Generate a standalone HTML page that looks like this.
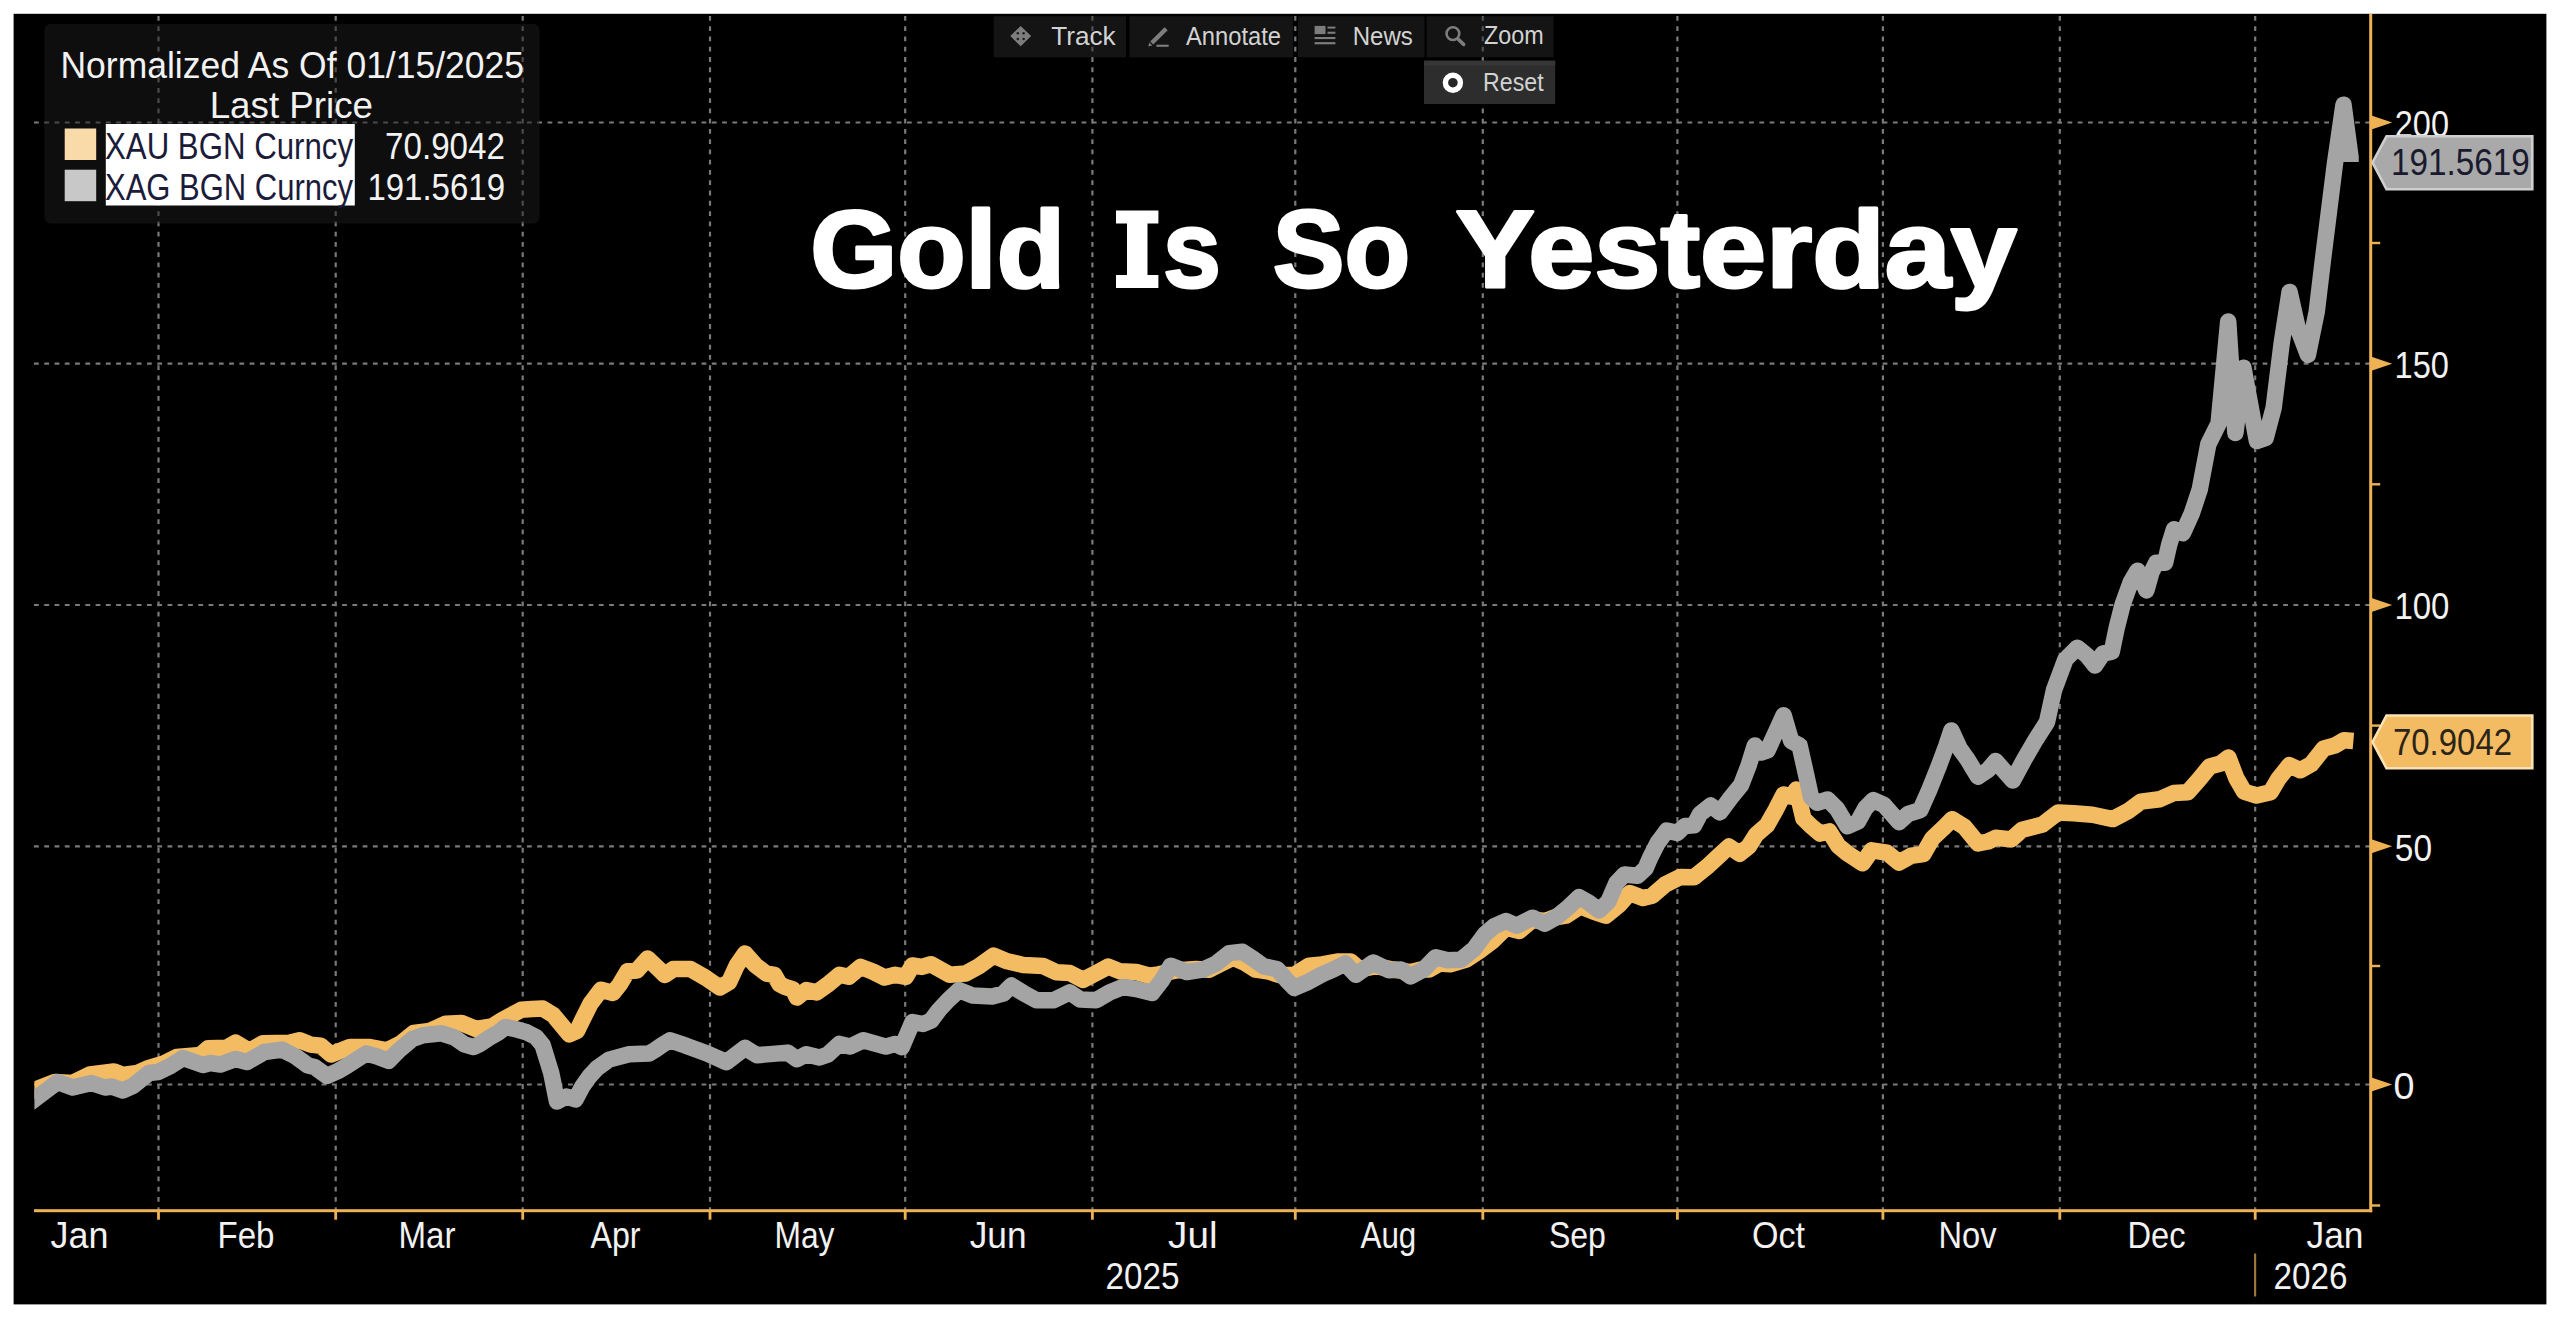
<!DOCTYPE html>
<html lang="en"><head><meta charset="utf-8"><title>Gold Is So Yesterday</title>
<style>html,body{margin:0;padding:0;background:#fff;}body{width:2560px;height:1317px;overflow:hidden;position:relative;font-family:"Liberation Sans",sans-serif;}#panel{position:absolute;left:14px;top:14px;width:2532px;height:1290px;background:#000;}svg{position:absolute;left:0;top:0;}</style></head><body>
<svg width="2560" height="1317" viewBox="0 0 2560 1317">
<rect x="13.6" y="13.8" width="2532.8" height="1290.6" fill="#000000"/>
<g stroke="#7a7a7a" stroke-width="2.2" stroke-dasharray="4.8 5.47" fill="none">
<line x1="34" y1="122.5" x2="2370.7" y2="122.5"/>
<line x1="34" y1="363.7" x2="2370.7" y2="363.7"/>
<line x1="34" y1="605.0" x2="2370.7" y2="605.0"/>
<line x1="34" y1="846.3" x2="2370.7" y2="846.3"/>
<line x1="34" y1="1084.5" x2="2370.7" y2="1084.5"/>
<line x1="158.5" y1="16" x2="158.5" y2="1210.7"/>
<line x1="335.7" y1="16" x2="335.7" y2="1210.7"/>
<line x1="522.7" y1="16" x2="522.7" y2="1210.7"/>
<line x1="710" y1="16" x2="710" y2="1210.7"/>
<line x1="905.2" y1="16" x2="905.2" y2="1210.7"/>
<line x1="1092.4" y1="16" x2="1092.4" y2="1210.7"/>
<line x1="1295.3" y1="16" x2="1295.3" y2="1210.7"/>
<line x1="1482.8" y1="16" x2="1482.8" y2="1210.7"/>
<line x1="1677.4" y1="16" x2="1677.4" y2="1210.7"/>
<line x1="1882.9" y1="16" x2="1882.9" y2="1210.7"/>
<line x1="2059.8" y1="16" x2="2059.8" y2="1210.7"/>
<line x1="2255.2" y1="16" x2="2255.2" y2="1210.7"/>
</g>
<rect x="44.5" y="24" width="495" height="199.5" rx="6" ry="6" fill="#1b1b1b" fill-opacity="0.5"/>
<rect x="993.8" y="16.3" width="132.20000000000005" height="41" fill="#282828" fill-opacity="0.5"/>
<rect x="1129.5" y="16.3" width="163.5" height="41" fill="#282828" fill-opacity="0.5"/>
<rect x="1298" y="16.3" width="126.5" height="41" fill="#282828" fill-opacity="0.5"/>
<rect x="1426.6" y="16.3" width="127.0" height="41" fill="#282828" fill-opacity="0.5"/>
<text x="60.5" y="77.6" textLength="463.5" lengthAdjust="spacingAndGlyphs" font-family="Liberation Sans, sans-serif" font-size="36" font-weight="normal" fill="#f2f2f2" >Normalized As Of 01/15/2025</text>
<text x="209.7" y="118.0" textLength="163.3" lengthAdjust="spacingAndGlyphs" font-family="Liberation Sans, sans-serif" font-size="36" font-weight="normal" fill="#f2f2f2" >Last Price</text>
<rect x="64.7" y="128.5" width="31.5" height="31.5" fill="#f8dba8"/>
<rect x="64.7" y="169.7" width="31.5" height="31.5" fill="#c8c8c8"/>
<rect x="105.8" y="124" width="249" height="81.5" fill="#ffffff"/>
<text x="105.0" y="158.7" textLength="248.0" lengthAdjust="spacingAndGlyphs" font-family="Liberation Sans, sans-serif" font-size="36" font-weight="normal" fill="#1b1b3a" >XAU BGN Curncy</text>
<text x="105.0" y="200.0" textLength="248.0" lengthAdjust="spacingAndGlyphs" font-family="Liberation Sans, sans-serif" font-size="36" font-weight="normal" fill="#1b1b3a" >XAG BGN Curncy</text>
<text x="385.0" y="158.7" textLength="120.0" lengthAdjust="spacingAndGlyphs" font-family="Liberation Sans, sans-serif" font-size="36" font-weight="normal" fill="#f2f2f2" >70.9042</text>
<text x="367.4" y="200.0" textLength="137.6" lengthAdjust="spacingAndGlyphs" font-family="Liberation Sans, sans-serif" font-size="36" font-weight="normal" fill="#f2f2f2" >191.5619</text>
<rect x="1424" y="60.7" width="131.2" height="43.3" fill="#2d2d2d"/>
<rect x="1424" y="60.7" width="131.2" height="5" fill="#363636"/>
<text x="1051.2" y="44.7" textLength="64.4" lengthAdjust="spacingAndGlyphs" font-family="Liberation Sans, sans-serif" font-size="26" font-weight="normal" fill="#d2d2d2" >Track</text>
<text x="1186.0" y="44.7" textLength="95.0" lengthAdjust="spacingAndGlyphs" font-family="Liberation Sans, sans-serif" font-size="26" font-weight="normal" fill="#d2d2d2" >Annotate</text>
<text x="1352.7" y="44.7" textLength="60.1" lengthAdjust="spacingAndGlyphs" font-family="Liberation Sans, sans-serif" font-size="26" font-weight="normal" fill="#d2d2d2" >News</text>
<text x="1483.9" y="44.3" textLength="59.7" lengthAdjust="spacingAndGlyphs" font-family="Liberation Sans, sans-serif" font-size="26" font-weight="normal" fill="#d2d2d2" >Zoom</text>
<text x="1483.1" y="91.0" textLength="60.5" lengthAdjust="spacingAndGlyphs" font-family="Liberation Sans, sans-serif" font-size="26" font-weight="normal" fill="#d2d2d2" >Reset</text>
<g transform="translate(1020.7 36.1)"><path d="M0-10.2L10.4 0L0 10.2L-10.4 0Z" fill="#7d7d7d"/><g fill="#1d1d1d"><circle cx="-2.9" cy="-2.8" r="1.25"/><circle cx="2.9" cy="-2.8" r="1.25"/><circle cx="-2.9" cy="2.8" r="1.25"/><circle cx="2.9" cy="2.8" r="1.25"/></g></g>
<g fill="#7d7d7d"><path d="M1150.2 41.5L1164.6 27.2L1167.7 30.2L1153.3 44.6Z"/><path d="M1148.2 46.6L1149.4 42.6L1152.3 45.5Z"/><rect x="1156.4" y="44.7" width="12.3" height="2.1"/></g>
<g fill="#7d7d7d"><rect x="1314.6" y="25.9" width="10.9" height="8.2"/><rect x="1327.5" y="26.6" width="7.9" height="2"/><rect x="1327.5" y="31.7" width="7.9" height="2.1"/><rect x="1314.6" y="37" width="20.8" height="2.1"/><rect x="1314.6" y="42.1" width="20.8" height="2.2"/></g>
<g stroke="#7d7d7d" fill="none"><circle cx="1452.9" cy="33.6" r="6.4" stroke-width="2.6"/><line x1="1458" y1="39" x2="1463.6" y2="44.4" stroke-width="3.6" stroke-linecap="round"/></g>
<circle cx="1452.9" cy="82.7" r="7.5" fill="#262626" stroke="#ffffff" stroke-width="5.4"/>
<text x="810.2" y="286.5" textLength="254.8" lengthAdjust="spacingAndGlyphs" font-family="Liberation Sans, sans-serif" font-size="110" font-weight="bold" fill="#ffffff" stroke="#ffffff" stroke-width="3" stroke-linejoin="round">Gold</text>
<path d="M1116 210.6H1158.4V223.6H1147.5V275H1158.4V288H1116V275H1127V223.6H1116Z" fill="#ffffff"/>
<text x="1163.0" y="286.5" textLength="57.9" lengthAdjust="spacingAndGlyphs" font-family="Liberation Sans, sans-serif" font-size="110" font-weight="bold" fill="#ffffff" stroke="#ffffff" stroke-width="3" stroke-linejoin="round">s</text>
<text x="1272.8" y="286.5" textLength="137.4" lengthAdjust="spacingAndGlyphs" font-family="Liberation Sans, sans-serif" font-size="110" font-weight="bold" fill="#ffffff" stroke="#ffffff" stroke-width="3" stroke-linejoin="round">So</text>
<text x="1455.6" y="286.5" textLength="561.3" lengthAdjust="spacingAndGlyphs" font-family="Liberation Sans, sans-serif" font-size="110" font-weight="bold" fill="#ffffff" stroke="#ffffff" stroke-width="3" stroke-linejoin="round">Yesterday</text>
<clipPath id="plot"><rect x="34.4" y="14" width="2336" height="1197"/></clipPath>
<g clip-path="url(#plot)" fill="none" stroke-width="16.5" stroke-linejoin="round" stroke-linecap="butt">
<polyline points="24.0,1094.0 34.4,1090.0 55.0,1082.0 72.6,1083.0 90.0,1074.5 114.0,1071.5 122.8,1075.0 137.8,1072.8 149.0,1067.8 164.0,1063.4 176.6,1057.0 200.5,1055.0 208.0,1048.3 226.8,1047.7 235.5,1042.7 249.3,1050.9 263.0,1043.3 289.4,1042.7 299.5,1040.2 310.7,1044.6 320.8,1045.8 331.0,1054.5 350.0,1047.0 369.9,1047.0 387.0,1050.3 400.4,1043.6 413.7,1033.0 429.7,1031.0 445.6,1023.7 461.5,1023.0 476.2,1029.0 492.0,1026.4 502.7,1019.7 521.3,1009.8 532.0,1009.0 542.6,1008.4 553.2,1015.0 569.2,1034.3 577.0,1031.0 582.5,1019.7 590.4,1003.8 601.0,989.8 613.0,993.0 619.7,984.5 627.6,971.2 636.9,970.6 647.6,958.6 658.2,968.6 664.8,975.0 673.3,969.1 690.6,969.1 705.2,977.5 719.8,987.5 729.1,982.1 737.0,964.9 745.0,953.5 755.7,965.5 766.3,973.5 774.3,974.8 779.6,984.1 784.9,986.8 792.9,989.4 796.9,997.5 806.2,990.1 816.8,992.4 827.4,984.8 839.4,974.8 848.7,976.8 860.6,966.9 872.6,971.5 884.6,977.5 895.2,974.8 905.8,976.8 912.5,965.5 921.8,966.9 931.0,964.2 949.7,974.8 965.6,973.5 978.9,966.2 993.5,955.6 1007.3,961.3 1023.2,965.0 1043.1,966.0 1056.4,972.3 1069.7,973.0 1083.0,979.9 1096.3,973.0 1108.3,966.6 1120.2,971.3 1136.2,972.0 1149.4,975.7 1158.7,974.3 1176.0,970.4 1196.0,969.0 1209.2,969.7 1222.5,963.0 1233.2,957.7 1245.1,963.0 1255.7,969.7 1269.0,971.7 1279.7,975.0 1294.3,975.0 1308.9,965.7 1322.2,964.4 1337.3,961.5 1350.6,961.5 1359.9,969.5 1375.8,966.2 1393.1,969.5 1410.4,972.2 1421.0,969.5 1429.0,969.5 1439.6,963.5 1450.2,964.2 1466.2,959.6 1479.4,950.9 1492.7,940.9 1506.0,927.7 1519.3,931.0 1532.6,919.7 1545.9,921.0 1553.9,917.7 1565.8,915.7 1580.4,906.4 1593.7,911.7 1605.7,915.7 1619.0,905.1 1629.6,893.1 1642.9,898.0 1652.2,895.8 1665.2,884.5 1680.4,876.9 1694.0,877.2 1707.7,866.3 1718.3,856.4 1729.0,846.5 1739.6,853.7 1748.7,846.5 1756.3,834.4 1766.9,825.3 1776.0,809.3 1783.6,794.5 1791.2,796.7 1796.5,789.5 1803.4,818.5 1811.0,826.0 1820.1,833.6 1829.2,831.4 1838.3,845.8 1847.4,853.4 1862.6,863.3 1871.7,850.3 1886.9,852.6 1899.0,862.5 1911.2,855.7 1923.3,854.1 1932.5,838.2 1943.1,828.3 1952.2,819.2 1964.3,826.8 1978.0,843.5 1988.0,841.5 1995.6,837.8 2011.3,839.4 2022.2,829.7 2042.5,824.5 2058.1,812.5 2073.8,813.3 2092.5,814.8 2112.8,819.1 2128.4,810.9 2140.9,801.6 2159.7,799.2 2173.8,793.0 2187.8,792.2 2198.8,779.7 2209.7,766.4 2220.6,763.6 2228.4,757.5 2236.3,778.1 2244.1,791.7 2256.6,795.6 2270.6,792.2 2278.4,778.9 2289.4,765.2 2300.3,770.3 2311.3,764.1 2323.8,748.4 2334.7,745.6 2344.1,740.2 2353.4,741.0" stroke="#f4bc62"/>
<polyline points="24.0,1107.2 34.4,1099.4 45.0,1091.5 57.6,1082.0 72.6,1087.5 91.4,1083.0 105.0,1087.5 111.5,1086.5 122.8,1090.6 132.8,1086.0 149.0,1073.0 158.0,1072.0 170.4,1066.0 183.0,1058.0 203.0,1065.0 210.5,1063.0 220.5,1064.6 235.5,1059.0 247.0,1062.0 264.4,1052.0 282.0,1049.6 295.7,1056.5 308.0,1065.5 314.5,1067.0 327.0,1076.0 338.0,1071.0 347.3,1065.6 365.9,1053.6 376.5,1056.3 388.5,1060.9 399.0,1050.3 412.4,1039.0 423.0,1035.3 441.6,1033.3 454.9,1037.7 464.2,1044.3 473.5,1047.0 480.0,1044.0 489.4,1037.7 498.7,1032.3 505.4,1027.0 516.0,1029.3 526.7,1032.3 536.0,1037.0 542.6,1045.0 551.2,1072.9 557.0,1101.5 566.5,1096.5 575.5,1099.5 582.5,1086.2 589.1,1076.9 597.0,1068.2 609.0,1059.6 629.0,1054.3 648.9,1053.6 655.0,1050.0 662.2,1045.0 670.0,1040.3 686.6,1045.9 706.5,1053.2 726.4,1062.1 745.0,1047.9 757.0,1055.2 772.9,1053.9 787.6,1052.6 796.9,1059.2 806.2,1054.2 819.4,1057.5 827.4,1054.8 839.4,1043.9 850.0,1046.6 863.3,1040.2 885.9,1046.6 895.2,1043.9 901.8,1047.2 912.5,1022.0 923.1,1024.0 931.0,1020.7 939.0,1010.0 948.3,1000.0 959.0,990.1 972.2,995.4 992.2,996.4 1003.3,993.6 1011.3,985.6 1023.2,992.9 1036.5,1000.2 1053.8,1000.2 1069.7,992.3 1080.4,999.6 1096.3,1000.2 1109.6,992.3 1122.9,987.0 1136.2,989.0 1152.1,992.9 1161.4,981.0 1170.7,965.7 1186.7,972.0 1202.6,969.7 1215.9,963.7 1229.2,953.1 1242.5,951.8 1254.4,959.7 1263.7,966.4 1277.0,969.0 1286.3,979.7 1294.3,987.9 1308.9,981.6 1322.2,974.3 1333.3,969.5 1345.2,963.5 1355.9,974.8 1373.2,962.5 1389.1,970.2 1401.0,969.5 1410.4,976.4 1423.6,969.5 1435.6,957.2 1447.6,960.2 1460.8,959.8 1474.1,948.9 1484.8,934.3 1494.1,926.3 1506.0,921.0 1516.7,925.7 1532.6,917.7 1544.6,923.7 1556.5,917.0 1567.1,908.4 1579.1,897.1 1588.4,902.4 1599.0,910.4 1608.3,901.8 1616.3,883.2 1624.3,874.5 1637.6,875.8 1645.5,868.5 1650.0,858.0 1657.6,843.0 1666.7,830.6 1677.3,832.9 1684.9,826.0 1694.0,825.3 1700.1,813.9 1710.7,805.5 1719.9,812.4 1730.5,798.0 1741.1,785.0 1748.7,765.3 1754.8,745.5 1761.5,752.5 1767.5,750.5 1776.0,731.9 1783.6,715.2 1791.2,741.0 1799.6,745.6 1806.4,775.9 1811.0,797.2 1817.0,802.8 1827.7,799.5 1836.8,808.6 1847.4,826.3 1858.0,821.5 1865.6,807.8 1873.2,800.2 1883.9,804.8 1899.0,822.2 1908.2,813.9 1920.3,810.1 1929.4,789.6 1938.5,766.8 1946.1,746.3 1951.4,730.4 1959.8,748.6 1967.4,759.2 1978.0,776.7 1988.0,770.0 1995.6,761.0 2012.8,780.5 2023.8,760.2 2034.7,741.4 2047.0,722.0 2054.0,690.0 2065.4,659.5 2077.3,647.7 2087.1,655.6 2095.0,665.5 2102.9,653.6 2111.8,651.6 2116.7,627.9 2122.7,604.3 2130.6,582.5 2137.5,570.7 2146.4,590.4 2151.3,572.7 2156.2,562.8 2165.1,562.8 2169.1,545.0 2174.0,529.2 2182.9,533.2 2191.8,513.4 2199.7,489.7 2208.3,444.2 2218.6,423.5 2228.2,321.5 2235.4,433.1 2243.4,367.7 2256.9,441.1 2265.7,437.9 2273.7,407.6 2281.6,343.8 2289.6,292.0 2297.6,327.8 2307.9,354.9 2316.7,311.9 2322.9,260.0 2334.9,164.0 2343.5,104.7 2350.5,157.0 2350.5,162.0" stroke="#a4a4a4"/>
</g>
<g fill="#eeb255" stroke="none">
<rect x="2369.2" y="14" width="3" height="1198.2"/>
<rect x="34" y="1209.2" width="2338.2" height="3"/>
<rect x="157.1" y="1210.7" width="2.8" height="9"/>
<rect x="334.3" y="1210.7" width="2.8" height="9"/>
<rect x="521.3000000000001" y="1210.7" width="2.8" height="9"/>
<rect x="708.6" y="1210.7" width="2.8" height="9"/>
<rect x="903.8000000000001" y="1210.7" width="2.8" height="9"/>
<rect x="1091.0" y="1210.7" width="2.8" height="9"/>
<rect x="1293.8999999999999" y="1210.7" width="2.8" height="9"/>
<rect x="1481.3999999999999" y="1210.7" width="2.8" height="9"/>
<rect x="1676.0" y="1210.7" width="2.8" height="9"/>
<rect x="1881.5" y="1210.7" width="2.8" height="9"/>
<rect x="2058.4" y="1210.7" width="2.8" height="9"/>
<rect x="2253.7999999999997" y="1210.7" width="2.8" height="9"/>
<rect x="2370.7" y="241.8" width="9.5" height="2.4"/>
<rect x="2370.7" y="483.1" width="9.5" height="2.4"/>
<rect x="2370.7" y="724.4" width="9.5" height="2.4"/>
<rect x="2370.7" y="964.8" width="9.5" height="2.4"/>
<rect x="2370.7" y="1204.3" width="9.5" height="2.4"/>
<path d="M2370.7 115.3L2392.2 122.5L2370.7 129.7Z"/>
<path d="M2370.7 356.5L2392.2 363.7L2370.7 370.9Z"/>
<path d="M2370.7 597.8L2392.2 605.0L2370.7 612.2Z"/>
<path d="M2370.7 839.0999999999999L2392.2 846.3L2370.7 853.5Z"/>
<path d="M2370.7 1077.3L2392.2 1084.5L2370.7 1091.7Z"/>
</g>
<rect x="2254" y="1253.5" width="2.2" height="43" fill="#9c763a"/>
<text x="50.5" y="1247.5" textLength="58.0" lengthAdjust="spacingAndGlyphs" font-family="Liberation Sans, sans-serif" font-size="36" font-weight="normal" fill="#f2f2f2" >Jan</text>
<text x="217.5" y="1247.5" textLength="57.0" lengthAdjust="spacingAndGlyphs" font-family="Liberation Sans, sans-serif" font-size="36" font-weight="normal" fill="#f2f2f2" >Feb</text>
<text x="398.5" y="1247.5" textLength="57.0" lengthAdjust="spacingAndGlyphs" font-family="Liberation Sans, sans-serif" font-size="36" font-weight="normal" fill="#f2f2f2" >Mar</text>
<text x="590.5" y="1247.5" textLength="50.0" lengthAdjust="spacingAndGlyphs" font-family="Liberation Sans, sans-serif" font-size="36" font-weight="normal" fill="#f2f2f2" >Apr</text>
<text x="774.5" y="1247.5" textLength="60.0" lengthAdjust="spacingAndGlyphs" font-family="Liberation Sans, sans-serif" font-size="36" font-weight="normal" fill="#f2f2f2" >May</text>
<text x="969.7" y="1247.5" textLength="56.8" lengthAdjust="spacingAndGlyphs" font-family="Liberation Sans, sans-serif" font-size="36" font-weight="normal" fill="#f2f2f2" >Jun</text>
<text x="1168.1" y="1247.5" textLength="49.4" lengthAdjust="spacingAndGlyphs" font-family="Liberation Sans, sans-serif" font-size="36" font-weight="normal" fill="#f2f2f2" >Jul</text>
<text x="1360.5" y="1247.5" textLength="55.8" lengthAdjust="spacingAndGlyphs" font-family="Liberation Sans, sans-serif" font-size="36" font-weight="normal" fill="#f2f2f2" >Aug</text>
<text x="1548.9" y="1247.5" textLength="57.0" lengthAdjust="spacingAndGlyphs" font-family="Liberation Sans, sans-serif" font-size="36" font-weight="normal" fill="#f2f2f2" >Sep</text>
<text x="1751.9" y="1247.5" textLength="53.0" lengthAdjust="spacingAndGlyphs" font-family="Liberation Sans, sans-serif" font-size="36" font-weight="normal" fill="#f2f2f2" >Oct</text>
<text x="1938.5" y="1247.5" textLength="58.0" lengthAdjust="spacingAndGlyphs" font-family="Liberation Sans, sans-serif" font-size="36" font-weight="normal" fill="#f2f2f2" >Nov</text>
<text x="2127.5" y="1247.5" textLength="58.0" lengthAdjust="spacingAndGlyphs" font-family="Liberation Sans, sans-serif" font-size="36" font-weight="normal" fill="#f2f2f2" >Dec</text>
<text x="2306.5" y="1247.5" textLength="57.0" lengthAdjust="spacingAndGlyphs" font-family="Liberation Sans, sans-serif" font-size="36" font-weight="normal" fill="#f2f2f2" >Jan</text>
<text x="1105.5" y="1288.7" textLength="74.0" lengthAdjust="spacingAndGlyphs" font-family="Liberation Sans, sans-serif" font-size="36" font-weight="normal" fill="#f2f2f2" >2025</text>
<text x="2273.5" y="1288.7" textLength="74.0" lengthAdjust="spacingAndGlyphs" font-family="Liberation Sans, sans-serif" font-size="36" font-weight="normal" fill="#f2f2f2" >2026</text>
<text x="2394.8" y="136.7" textLength="54.2" lengthAdjust="spacingAndGlyphs" font-family="Liberation Sans, sans-serif" font-size="36" font-weight="normal" fill="#f2f2f2" >200</text>
<text x="2394.6" y="377.9" textLength="54.4" lengthAdjust="spacingAndGlyphs" font-family="Liberation Sans, sans-serif" font-size="36" font-weight="normal" fill="#f2f2f2" >150</text>
<text x="2394.4" y="619.2" textLength="55.1" lengthAdjust="spacingAndGlyphs" font-family="Liberation Sans, sans-serif" font-size="36" font-weight="normal" fill="#f2f2f2" >100</text>
<text x="2394.8" y="860.5" textLength="37.2" lengthAdjust="spacingAndGlyphs" font-family="Liberation Sans, sans-serif" font-size="36" font-weight="normal" fill="#f2f2f2" >50</text>
<text x="2393.6" y="1098.7" textLength="21.0" lengthAdjust="spacingAndGlyphs" font-family="Liberation Sans, sans-serif" font-size="36" font-weight="normal" fill="#f2f2f2" >0</text>
<path d="M2372.5 162.5L2386.5 136.3H2532.3V189.3H2386.5Z" fill="#a9a9a9" stroke="#cfcfcf" stroke-width="2.6" stroke-linejoin="miter"/>
<text x="2391.0" y="174.7" textLength="138.7" lengthAdjust="spacingAndGlyphs" font-family="Liberation Sans, sans-serif" font-size="36" font-weight="normal" fill="#1a1a2e" >191.5619</text>
<path d="M2372.5 742L2386.5 715.5H2532.3V768.3H2386.5Z" fill="#f4bc62" stroke="#fbe2b4" stroke-width="2.6" stroke-linejoin="miter"/>
<text x="2393.0" y="754.7" textLength="119.0" lengthAdjust="spacingAndGlyphs" font-family="Liberation Sans, sans-serif" font-size="36" font-weight="normal" fill="#2b2418" >70.9042</text>
</svg></body></html>
